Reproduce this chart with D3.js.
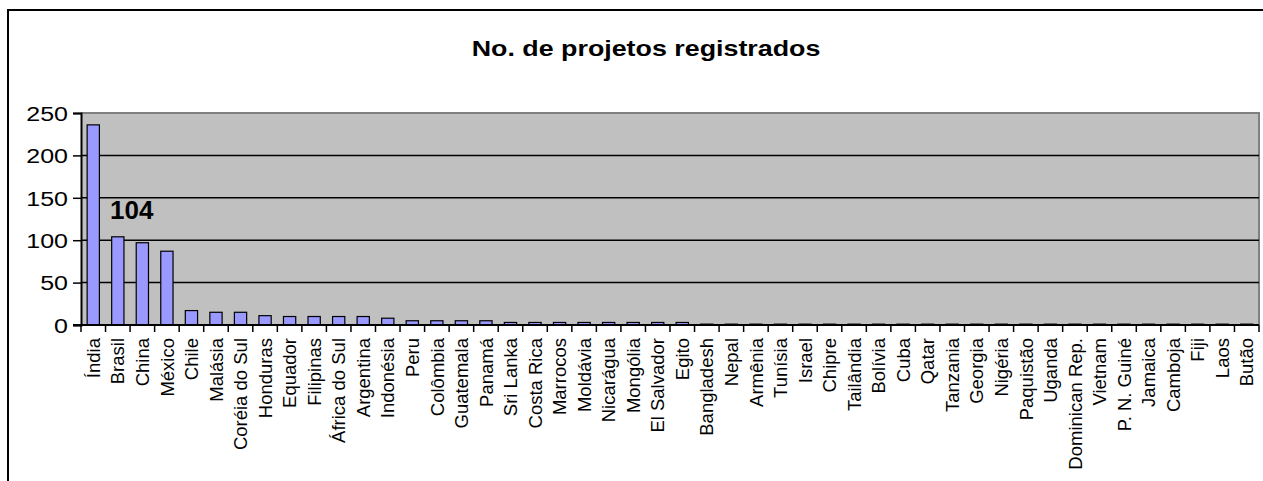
<!DOCTYPE html>
<html>
<head>
<meta charset="utf-8">
<script src="https://d3js.org/d3.v7.min.js"></script>
<style>
    body { margin: 0; background: #ffffff; }
    text { font-family: "Liberation Sans", Arial, sans-serif; }
</style>
</head>
<body>
<div id="chart"></div>
<script>
var countries = ["Índia", "Brasil", "China", "México", "Chile", "Malásia", "Coréia do Sul",
    "Honduras", "Equador", "Filipinas", "África do Sul", "Argentina", "Indonésia", "Peru",
    "Colômbia", "Guatemala", "Panamá", "Sri Lanka", "Costa Rica", "Marrocos", "Moldávia",
    "Nicarágua", "Mongólia", "El Salvador", "Egito", "Bangladesh", "Nepal", "Armênia",
    "Tunísia", "Israel", "Chipre", "Tailândia", "Bolívia", "Cuba", "Qatar", "Tanzania",
    "Georgia", "Nigéria", "Paquistão", "Uganda", "Dominican Rep.", "Vietnam", "P. N. Guiné",
    "Jamaica", "Camboja", "Fiji", "Laos", "Butão"];

var projects = [236, 104, 97, 87, 17, 15, 15,
    11, 10, 10, 10, 10, 8, 5,
    5, 5, 5, 3, 3, 3, 3,
    3, 3, 3, 3, 1, 1, 1,
    1, 1, 1, 1, 1, 1, 1, 1,
    1, 1, 1, 1, 1, 1, 1,
    1, 1, 1, 1, 1];

var yTicks = [0, 50, 100, 150, 200, 250];
var gridTicks = [50, 100, 150, 200];

var chartTitle = "No. de projetos registrados";
var highlighted = "Brasil";

var width = 1263;
var height = 481;
var margin = { top: 113, right: 4, bottom: 156, left: 81 };

var data = countries.map(function (c, i) { return { name: c, value: projects[i] }; });

var svg = d3.select("#chart")
    .append("svg")
    .attr("width", width)
    .attr("height", height);

// outer chart frame (runs off the right and bottom of the picture)
svg.append("rect")
    .attr("x", 8)
    .attr("y", 10)
    .attr("width", 1270)
    .attr("height", 490)
    .attr("fill", "white")
    .attr("stroke", "black")
    .attr("stroke-width", 2);

var xScale = d3.scaleBand()
    .domain(countries)
    .range([margin.left, width - margin.right])
    .paddingInner(0.5)
    .paddingOuter(0.25);

// band without padding, used for ticks between categories
var xCat = d3.scaleBand()
    .domain(countries)
    .range([margin.left, width - margin.right]);

var yScale = d3.scaleLinear()
    .domain([0, 250])
    .range([height - margin.bottom, margin.top]);

var plotLeft = margin.left;
var plotRight = width - margin.right;

// grey plot area
svg.append("rect")
    .attr("x", plotLeft)
    .attr("y", yScale(250))
    .attr("width", plotRight - plotLeft)
    .attr("height", yScale(0) - yScale(250))
    .attr("fill", "#c0c0c0");

svg.append("path")
    .attr("d", "M" + plotLeft + "," + yScale(250) + "H" + plotRight + "V" + yScale(0))
    .attr("fill", "none")
    .attr("stroke", "#808080")
    .attr("stroke-width", 2);

svg.selectAll(".grid")
    .data(gridTicks)
    .enter()
    .append("line")
    .attr("class", "grid")
    .attr("x1", plotLeft)
    .attr("x2", plotRight)
    .attr("y1", function (d) { return yScale(d); })
    .attr("y2", function (d) { return yScale(d); })
    .attr("stroke", "black")
    .attr("stroke-width", 1.5);

svg.selectAll(".bar")
    .data(data)
    .enter()
    .append("rect")
    .attr("class", "bar")
    .attr("x", function (d) { return xScale(d.name); })
    .attr("y", function (d) { return yScale(d.value); })
    .attr("width", xScale.bandwidth())
    .attr("height", function (d) { return yScale(0) - yScale(d.value); })
    .attr("fill", "#9999ff")
    .attr("stroke", "black")
    .attr("stroke-width", 1.2);

// y axis
var yAxis = svg.append("g")
    .attr("transform", "translate(" + plotLeft + ",0)")
    .call(d3.axisLeft(yScale).tickValues(yTicks).tickSize(8).tickPadding(0));

yAxis.select(".domain").attr("stroke-width", 2);
yAxis.selectAll(".tick line").attr("stroke-width", 1.5);
yAxis.selectAll(".tick text")
    .attr("x", 0)
    .attr("dy", "0.36em")
    .attr("transform", "translate(-13,0) scale(1.25,1)")
    .style("font-size", "20px")
    .attr("fill", "black");

// x axis: ticks sit between categories
var xAxisG = svg.append("g")
    .attr("transform", "translate(0," + yScale(0) + ")");

xAxisG.append("line")
    .attr("x1", plotLeft - 8)
    .attr("x2", plotRight)
    .attr("stroke", "black")
    .attr("stroke-width", 2);

xAxisG.selectAll(".xtick")
    .data(countries.concat(["__end"]))
    .enter()
    .append("line")
    .attr("class", "xtick")
    .attr("x1", function (d, i) { return i < countries.length ? xCat(d) : plotRight; })
    .attr("x2", function (d, i) { return i < countries.length ? xCat(d) : plotRight; })
    .attr("y1", 0)
    .attr("y2", 7)
    .attr("stroke", "black")
    .attr("stroke-width", 1.5);

xAxisG.selectAll(".xlabel")
    .data(countries)
    .enter()
    .append("text")
    .attr("class", "xlabel")
    .attr("transform", function (d) {
        return "translate(" + (xCat(d) + xCat.bandwidth() / 2) + ",13) rotate(-90)";
    })
    .attr("text-anchor", "end")
    .attr("dy", "0.36em")
    .style("font-size", "18.5px")
    .text(function (d) { return d; });

// title, a bit wider than plain Arial like the original
svg.append("text")
    .attr("transform", "translate(646,56) scale(1.22,1)")
    .attr("text-anchor", "middle")
    .style("font-size", "22px")
    .style("font-weight", "bold")
    .text(chartTitle);

// value label for the highlighted bar
var hl = data.filter(function (d) { return d.name === highlighted; })[0];
svg.append("text")
    .attr("x", xCat(hl.name) + xCat.bandwidth() / 2 + 14)
    .attr("y", yScale(hl.value) - 18)
    .attr("text-anchor", "middle")
    .style("font-size", "26px")
    .style("font-weight", "bold")
    .text(hl.value);
</script>
</body>
</html>
